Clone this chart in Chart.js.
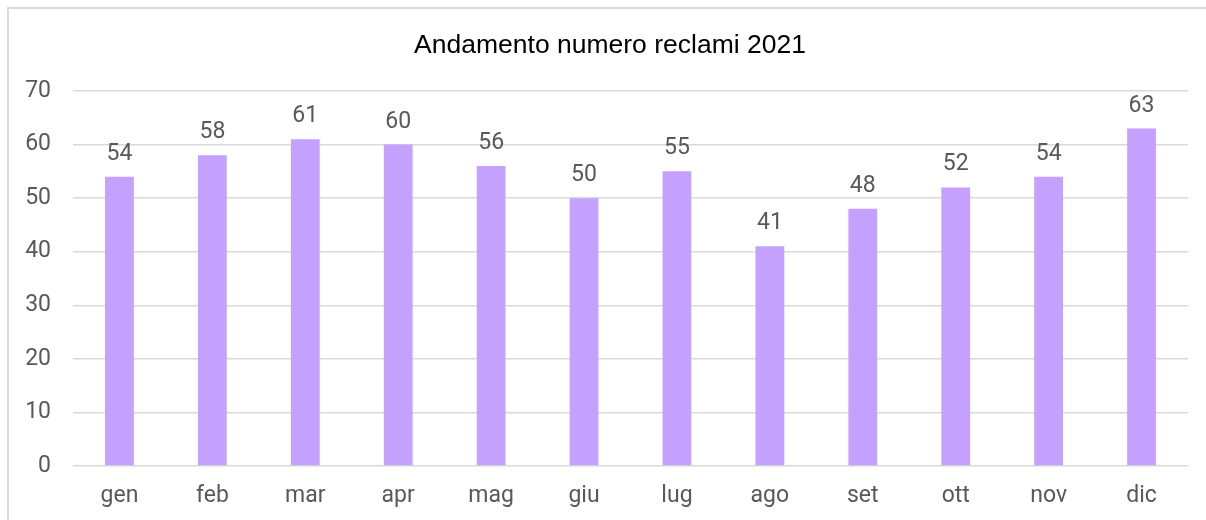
<!DOCTYPE html>
<html>
<head>
<meta charset="utf-8">
<script src="https://cdn.jsdelivr.net/npm/chart.js@4/dist/chart.umd.min.js"></script>
<style>
  html, body { margin:0; padding:0; width:1206px; height:520px; overflow:hidden; background:#fff; }
  canvas { position:absolute; left:0; top:0; }
</style>
</head>
<body>
<canvas id="c" width="1206" height="520"></canvas>
<script>
const categories = ['gen','feb','mar','apr','mag','giu','lug','ago','set','ott','nov','dic'];
const reclami = [54, 58, 61, 60, 56, 50, 55, 41, 48, 52, 54, 63];
const yTicks = [0, 10, 20, 30, 40, 50, 60, 70];
const titleText = 'Andamento numero reclami 2021';

const framePlugin = {
  id: 'frame',
  beforeDraw(chart) {
    const ctx = chart.ctx;
    ctx.save();
    ctx.strokeStyle = '#d9d9d9';
    ctx.lineWidth = 2;
    ctx.beginPath();
    ctx.moveTo(8, chart.height + 2);
    ctx.lineTo(8, 8);
    ctx.lineTo(chart.width + 2, 8);
    ctx.stroke();
    ctx.restore();
  },
  afterDraw(chart) {
    const ctx = chart.ctx;
    ctx.save();
    ctx.font = '26.5px "Liberation Sans", Arial, sans-serif';
    ctx.fillStyle = '#000';
    ctx.textAlign = 'center';
    ctx.textBaseline = 'middle';
    ctx.fillText(titleText, (chart.width + 14) / 2, 46);
    ctx.restore();
  }
};

const labelPlugin = {
  id: 'valueLabels',
  afterDatasetsDraw(chart) {
    const ctx = chart.ctx;
    const meta = chart.getDatasetMeta(0);
    ctx.save();
    ctx.font = '23px Roboto';
    ctx.fillStyle = '#595959';
    ctx.textAlign = 'center';
    ctx.textBaseline = 'alphabetic';
    meta.data.forEach((bar, i) => {
      ctx.fillText(String(reclami[i]), bar.x, bar.y - 17);
    });
    ctx.restore();
  }
};

new Chart(document.getElementById('c'), {
  type: 'bar',
  data: {
    labels: categories,
    datasets: [{
      data: reclami,
      backgroundColor: 'rgb(196,161,255)',
      borderWidth: 0,
      categoryPercentage: 1,
      barPercentage: 0.31
    }]
  },
  options: {
    responsive: false,
    animation: false,
    devicePixelRatio: 1,
    layout: { padding: { left: 0, right: 18, top: 91, bottom: 0 } },
    plugins: {
      legend: { display: false },
      tooltip: { enabled: false },
      title: { display: false }
    },
    scales: {
      x: {
        afterFit(s) { s.height = 54; },
        grid: { display: false, drawTicks: false },
        border: { display: false },
        ticks: { color: '#595959', font: { family: 'Roboto', size: 23 }, padding: 16 }
      },
      y: {
        min: 0, max: 70,
        afterBuildTicks(s) { s.ticks = yTicks.map(v => ({ value: v })); },
        afterFit(s) { s.width = 73; },
        grid: { color: '#d9d9d9', lineWidth: 1.5, drawTicks: false },
        border: { display: false },
        ticks: { color: '#595959', font: { family: 'Roboto', size: 23 }, padding: 22 }
      }
    }
  },
  plugins: [framePlugin, labelPlugin]
});
</script>
</body>
</html>
